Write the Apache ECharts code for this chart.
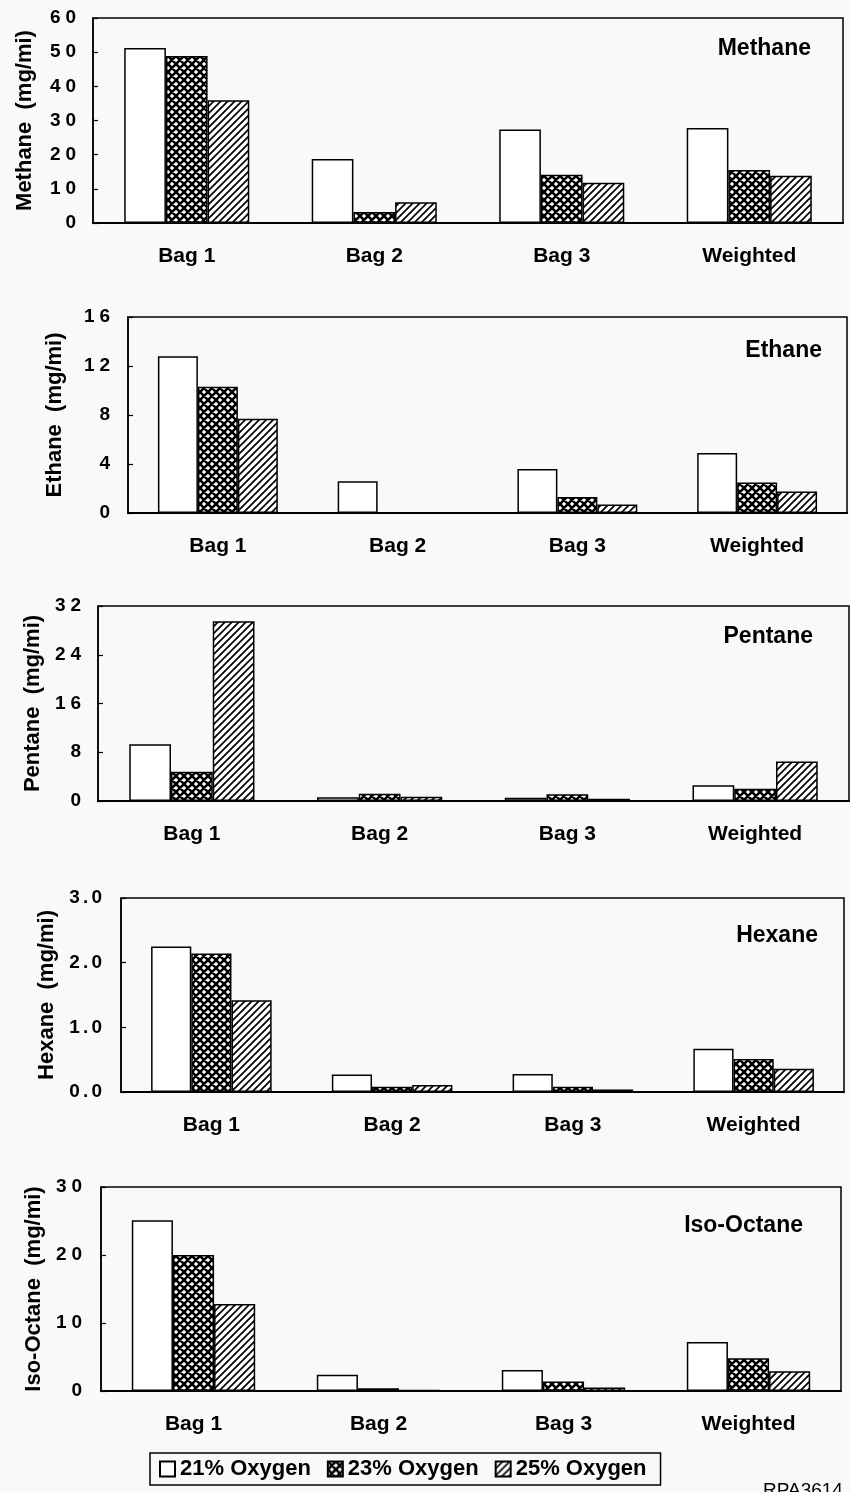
<!DOCTYPE html>
<html>
<head>
<meta charset="utf-8">
<script src="https://cdn.jsdelivr.net/npm/echarts@6/dist/echarts.min.js"></script>
<style>
  html, body { margin: 0; padding: 0; background: #f8f9f8; }
  #chart { width: 850px; height: 1492px; }
</style>
</head>
<body>
<div id="chart"></div>
<script>
// Emission categories along each x axis
const categories = ['Bag 1', 'Bag 2', 'Bag 3', 'Weighted'];
const seriesNames = ['21% Oxygen', '23% Oxygen', '25% Oxygen'];

// Compound emissions, mg/mi, one array per oxygen level
const methane21 = [51.2, 18.7, 27.4, 27.8];
const methane23 = [48.9, 3.2, 14.1, 15.5];
const methane25 = [35.9, 6.1, 11.8, 13.8];

const ethane21 = [12.8, 2.6, 3.6, 4.9];
const ethane23 = [10.3, 0, 1.3, 2.5];
const ethane25 = [7.7, 0, 0.7, 1.75];

const pentane21 = [9.3, 0.6, 0.55, 2.6];
const pentane23 = [4.8, 1.2, 1.1, 2.0];
const pentane25 = [29.5, 0.7, 0.35, 6.5];

const hexane21 = [2.25, 0.27, 0.28, 0.67];
const hexane23 = [2.14, 0.08, 0.08, 0.51];
const hexane25 = [1.42, 0.11, 0.04, 0.36];

const isoOctane21 = [25.1, 2.4, 3.1, 7.2];
const isoOctane23 = [20.0, 0.4, 1.4, 4.8];
const isoOctane25 = [12.8, 0.15, 0.5, 2.9];

// Y-axis scales (ticks run from 0 to max by step)
const compounds = ['Methane', 'Ethane', 'Pentane', 'Hexane', 'Iso-Octane'];
const yMax = [60, 16, 32, 3, 30];
const yStep = [10, 4, 8, 1, 10];
const yDecimals = [0, 0, 0, 1, 0];

const panelData = [
  [methane21, methane23, methane25],
  [ethane21, ethane23, ethane25],
  [pentane21, pentane23, pentane25],
  [hexane21, hexane23, hexane25],
  [isoOctane21, isoOctane23, isoOctane25]
];

// Panel layout: plot box in pixels
const panels = [
  { left: 93,  top: 18,   width: 750, height: 205, nameGap: 57, labelMargin: 17, titleRight: 34, titleTop: 32 },
  { left: 128, top: 317,  width: 719, height: 196, nameGap: 62, labelMargin: 18, titleRight: 23, titleTop: 334 },
  { left: 98,  top: 606,  width: 751, height: 195, nameGap: 53, labelMargin: 17, titleRight: 32, titleTop: 620 },
  { left: 121, top: 898,  width: 723, height: 194, nameGap: 54, labelMargin: 19, titleRight: 27, titleTop: 919 },
  { left: 101, top: 1187, width: 740, height: 204, nameGap: 51, labelMargin: 19, titleRight: 42, titleTop: 1209 }
];

const FONT = '"Liberation Sans", Arial, Helvetica, sans-serif';

// Fill patterns: cross-hatch and diagonal hatch
function crossPattern() {
  const s = 8;
  const c = document.createElement('canvas');
  c.width = s; c.height = s;
  const g = c.getContext('2d');
  g.fillStyle = '#ffffff';
  g.fillRect(0, 0, s, s);
  g.strokeStyle = '#000000';
  g.lineWidth = 2.6;
  g.beginPath();
  for (let k = -2; k <= 2; k++) {
    g.moveTo(s * k - s, -s); g.lineTo(s * k + 2 * s, 2 * s);
    g.moveTo(s * k - s, 2 * s); g.lineTo(s * k + 2 * s, -s);
  }
  g.stroke();
  return { image: c, repeat: 'repeat' };
}
function hatchPattern() {
  const s = 7;
  const c = document.createElement('canvas');
  c.width = s; c.height = s;
  const g = c.getContext('2d');
  g.fillStyle = '#ffffff';
  g.fillRect(0, 0, s, s);
  g.strokeStyle = '#000000';
  g.lineWidth = 1.7;
  g.beginPath();
  for (let k = -2; k <= 2; k++) {
    g.moveTo(s * k - s, 2 * s); g.lineTo(s * k + 2 * s, -s);
  }
  g.stroke();
  return { image: c, repeat: 'repeat' };
}
const fills = ['#ffffff', crossPattern(), hatchPattern()];

function tickText(v, dec) {
  const t = v.toFixed(dec);
  if (dec > 0) return t.split('').join('\u2006');
  return t.split('').join('\u2005');
}

const grid = [], xAxis = [], yAxis = [], series = [], title = [];
panels.forEach((p, i) => {
  grid.push({
    left: p.left, top: p.top, width: p.width, height: p.height,
    show: true, borderColor: '#000', borderWidth: 1.5, backgroundColor: 'transparent'
  });
  xAxis.push({
    type: 'category', gridIndex: i, data: categories,
    axisLine: { lineStyle: { color: '#000', width: 2.2 } },
    axisTick: { show: false },
    axisLabel: { color: '#000', fontFamily: FONT, fontWeight: 'bold', fontSize: 21, margin: 23 }
  });
  yAxis.push({
    type: 'value', gridIndex: i, min: 0, max: yMax[i], interval: yStep[i],
    name: compounds[i] + '  (mg/mi)', nameLocation: 'middle', nameGap: p.nameGap,
    nameTextStyle: { color: '#000', fontFamily: FONT, fontWeight: 'bold', fontSize: 22 },
    axisLine: { show: true, lineStyle: { color: '#000', width: 1.5 } },
    axisTick: { show: true, inside: true, length: 5, lineStyle: { color: '#000', width: 1.2 } },
    splitLine: { show: false },
    axisLabel: {
      color: '#000', fontFamily: FONT, fontWeight: 'bold', fontSize: 19, margin: p.labelMargin,
      formatter: v => tickText(v, yDecimals[i])
    }
  });
  title.push({
    text: compounds[i], right: p.titleRight, top: p.titleTop,
    textStyle: { color: '#000', fontFamily: FONT, fontWeight: 'bold', fontSize: 23 }
  });
  panelData[i].forEach((arr, j) => {
    series.push({
      type: 'bar', name: seriesNames[j], xAxisIndex: i, yAxisIndex: i, data: arr,
      barGap: '0%', barCategoryGap: '33.3%',
      itemStyle: { color: fills[j], borderColor: '#000', borderWidth: 1.5 },
      emphasis: { disabled: true },
      animation: false
    });
  });
});

title.push({
  text: 'RPA3614', left: 758, top: 1476,
  textStyle: { color: '#000', fontFamily: FONT, fontWeight: 'normal', fontSize: 19 }
});

const chart = echarts.init(document.getElementById('chart'), null, { renderer: 'canvas' });
chart.setOption({
  backgroundColor: '#f8f9f8',
  animation: false,
  title: title,
  grid: grid,
  xAxis: xAxis,
  yAxis: yAxis,
  legend: {
    data: seriesNames,
    left: 150, top: 1453,
    orient: 'horizontal',
    icon: 'rect',
    itemWidth: 15, itemHeight: 15, itemGap: 16,
    padding: [5, 14, 5, 9],
    borderColor: '#000', borderWidth: 1.5,
    selectedMode: false,
    textStyle: { color: '#000', fontFamily: FONT, fontWeight: 'bold', fontSize: 22 }
  },
  series: series
});
</script>
</body>
</html>
